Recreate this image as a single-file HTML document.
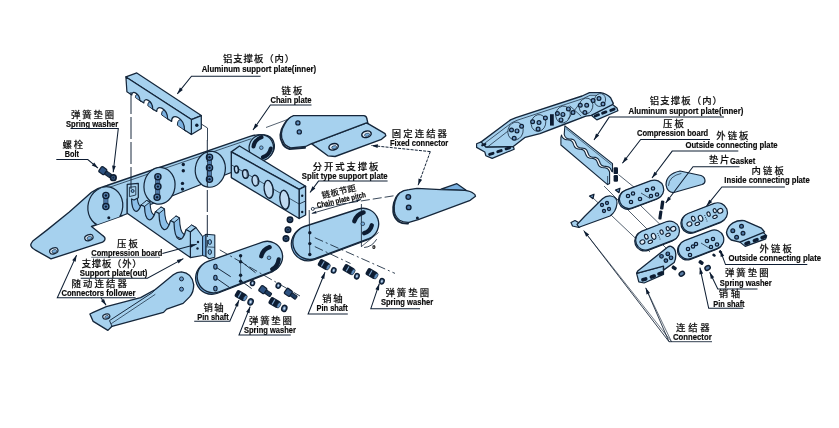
<!DOCTYPE html>
<html><head><meta charset="utf-8"><title>Drag chain exploded diagram</title>
<style>
html,body{margin:0;padding:0;background:#fff;}
svg{display:block}
.cn{font-family:"Liberation Sans","Noto Sans CJK SC","WenQuanYi Zen Hei",sans-serif;fill:#111;font-weight:500;stroke:#111;stroke-width:0.15}
.en{font-family:"Liberation Sans","DejaVu Sans",sans-serif;fill:#0a0a0a;font-weight:bold;stroke:#0a0a0a;stroke-width:0.2}
</style></head><body>
<svg width="839" height="428" viewBox="0 0 839 428">
<defs><filter id="soft" x="0" y="0" width="100%" height="100%" filterUnits="objectBoundingBox"><feGaussianBlur stdDeviation="0.4"/></filter></defs>
<rect width="839" height="428" fill="#fff"/>
<g filter="url(#soft)">
<rect width="839" height="428" fill="#fff"/>
<path d="M107,185.5 L250,136.4 Q261,133.2 267.5,135.6 C275.5,139 276.5,149 270.5,155.5 C266,159.8 262,160.8 258,160.3 L235,171 L122.6,215.5 L91.5,226.5 L102.6,235.4 Q107.5,239 102.6,242.1 L51,258.9 L35,249.8 Q29.5,246.5 31.2,243.5 L32.8,241 L47.2,229.9 L69.3,212.1 L91.5,192.2 Q98,188 107,185.5 Z" fill="#a6d1ee" stroke="#14263a" stroke-width="1.34" stroke-linejoin="round" stroke-linecap="round" />
<path d="M93,193.5 Q99,190 108,187.8 L251,138.8" fill="none" stroke="#14263a" stroke-width="0.73" stroke-linejoin="round" stroke-linecap="round" />
<clipPath id="bandclip"><path d="M107,185.5 L250,136.4 Q261,133.2 267.5,135.6 C275.5,139 276.5,149 270.5,155.5 C266,159.8 262,160.8 258,160.3 L235,171 L122.6,215.5 L91.5,226.5 L102.6,235.4 Q107.5,239 102.6,242.1 L51,258.9 L35,249.8 Q29.5,246.5 31.2,243.5 L32.8,241 L47.2,229.9 L69.3,212.1 L91.5,192.2 Q98,188 107,185.5 Z"/></clipPath>
<g clip-path="url(#bandclip)">
<ellipse cx="105.3" cy="206.6" rx="17.3" ry="20.0" transform="rotate(14.0 105.3 206.6)" fill="#a6d1ee" stroke="#14263a" stroke-width="1.22"/>
</g>
<ellipse cx="159.5" cy="185.8" rx="15.5" ry="18.4" transform="rotate(8.0 159.5 185.8)" fill="#a6d1ee" stroke="#14263a" stroke-width="1.22"/>
<ellipse cx="210.3" cy="169.3" rx="15.0" ry="18.0" transform="rotate(8.0 210.3 169.3)" fill="#a6d1ee" stroke="#14263a" stroke-width="1.22"/>
<ellipse cx="261.3" cy="147.7" rx="12.2" ry="12.9" transform="rotate(12.0 261.3 147.7)" fill="#a6d1ee" stroke="#14263a" stroke-width="1.22"/>
<rect x="103.8" y="195.5" width="4.2" height="11.1" fill="#4f79a8" stroke="#14263a" stroke-width="0.6"/>
<rect x="155.6" y="176.8" width="4.2" height="20.5" fill="#4f79a8" stroke="#14263a" stroke-width="0.6"/>
<rect x="207.4" y="157.2" width="4.2" height="22.1" fill="#4f79a8" stroke="#14263a" stroke-width="0.6"/>
<circle cx="105.9" cy="195.5" r="3.1" fill="#557fae" stroke="#0f1f33" stroke-width="1.34"/>
<circle cx="105.9" cy="195.5" r="1.2" fill="#0f1f33" stroke="none" stroke-width="0.73"/>
<circle cx="105.9" cy="206.6" r="3.1" fill="#557fae" stroke="#0f1f33" stroke-width="1.34"/>
<circle cx="105.9" cy="206.6" r="1.2" fill="#0f1f33" stroke="none" stroke-width="0.73"/>
<circle cx="157.9" cy="176.8" r="3.1" fill="#557fae" stroke="#0f1f33" stroke-width="1.34"/>
<circle cx="157.9" cy="176.8" r="1.2" fill="#0f1f33" stroke="none" stroke-width="0.73"/>
<circle cx="157.9" cy="186.6" r="3.1" fill="#557fae" stroke="#0f1f33" stroke-width="1.34"/>
<circle cx="157.9" cy="186.6" r="1.2" fill="#0f1f33" stroke="none" stroke-width="0.73"/>
<circle cx="157.1" cy="197.3" r="3.1" fill="#557fae" stroke="#0f1f33" stroke-width="1.34"/>
<circle cx="157.1" cy="197.3" r="1.2" fill="#0f1f33" stroke="none" stroke-width="0.73"/>
<circle cx="209.5" cy="157.2" r="3.1" fill="#557fae" stroke="#0f1f33" stroke-width="1.34"/>
<circle cx="209.5" cy="157.2" r="1.2" fill="#0f1f33" stroke="none" stroke-width="0.73"/>
<circle cx="209.5" cy="167.8" r="3.1" fill="#557fae" stroke="#0f1f33" stroke-width="1.34"/>
<circle cx="209.5" cy="167.8" r="1.2" fill="#0f1f33" stroke="none" stroke-width="0.73"/>
<circle cx="209.5" cy="179.3" r="3.1" fill="#557fae" stroke="#0f1f33" stroke-width="1.34"/>
<circle cx="209.5" cy="179.3" r="1.2" fill="#0f1f33" stroke="none" stroke-width="0.73"/>
<circle cx="108.8" cy="217.7" r="1.5" fill="#0f1f33" stroke="none" stroke-width="0.73"/>
<circle cx="183.3" cy="164.5" r="1.7" fill="#0f1f33" stroke="none" stroke-width="0.73"/>
<circle cx="183.3" cy="170.8" r="1.7" fill="#0f1f33" stroke="none" stroke-width="0.73"/>
<circle cx="182.5" cy="183.4" r="1.7" fill="#0f1f33" stroke="none" stroke-width="0.73"/>
<circle cx="182.5" cy="189.1" r="1.7" fill="#0f1f33" stroke="none" stroke-width="0.73"/>
<path d="M253.5,146.5 Q254.5,140 261.5,137.2" fill="none" stroke="#0f1f33" stroke-width="4.03" stroke-linejoin="round" stroke-linecap="round" />
<path d="M262.8,157.3 Q269,155.5 270.8,148.5" fill="none" stroke="#0f1f33" stroke-width="4.03" stroke-linejoin="round" stroke-linecap="round" />
<circle cx="261.3" cy="147.7" r="1.8" fill="#79b0e0" stroke="#14263a" stroke-width="0.73"/>
<ellipse cx="88.9" cy="237.6" rx="4.3" ry="2.9" transform="rotate(-20.0 88.9 237.6)" fill="#e8f1fa" stroke="#14263a" stroke-width="1.22"/>
<ellipse cx="89.4" cy="238.0" rx="2.5" ry="1.6" transform="rotate(-20.0 89.4 238.0)" fill="#79b0e0" stroke="#14263a" stroke-width="0.61"/>
<ellipse cx="53.8" cy="250.9" rx="4.3" ry="2.9" transform="rotate(-20.0 53.8 250.9)" fill="#e8f1fa" stroke="#14263a" stroke-width="1.22"/>
<ellipse cx="54.3" cy="251.3" rx="2.5" ry="1.6" transform="rotate(-20.0 54.3 251.3)" fill="#79b0e0" stroke="#14263a" stroke-width="0.61"/>
<path d="M137.0,194.5 L137.0,194.5 C137.5,208.2 143.0,210.9 146.5,200.5 L150.0,202.0 C150.5,218.2 157.5,219.3 161.0,207.0 L164.5,209.0 C165.0,227.8 172.5,230.2 176.0,216.0 L179.5,218.0 C180.0,238.0 188.0,240.2 191.5,225.0 L195.9,227.5 L190.4,243.2 L127.2,213 L127.2,199 Z" fill="#8cbfe8" stroke="#14263a" stroke-width="1.1" stroke-linejoin="round" stroke-linecap="round" />
<path d="M141.0,205.0 L144.5,206.5 L150.0,202.0 L146.5,200.5 Z" fill="#a6d1ee" stroke="#14263a" stroke-width="0.98" stroke-linejoin="round" />
<path d="M155.5,211.5 L159.0,213.5 L164.5,209.0 L161.0,207.0 Z" fill="#a6d1ee" stroke="#14263a" stroke-width="0.98" stroke-linejoin="round" />
<path d="M170.5,220.5 L174.0,222.5 L179.5,218.0 L176.0,216.0 Z" fill="#a6d1ee" stroke="#14263a" stroke-width="0.98" stroke-linejoin="round" />
<path d="M186.0,229.5 L190.4,232.0 L195.9,227.5 L191.5,225.0 Z" fill="#a6d1ee" stroke="#14263a" stroke-width="0.98" stroke-linejoin="round" />
<path d="M190.4,232.0 L195.9,227.5 L202.6,236.5 L202.6,255.5 L190.4,257.6 Z" fill="#a6d1ee" stroke="#14263a" stroke-width="1.1" stroke-linejoin="round" />
<path d="M127.2,184.4 L138.3,183.3 L138.3,197.7 L134,200 L131.5,199.0 C132.0,212.8 137.5,215.4 141.0,205.0 L144.5,206.5 C145.0,222.8 152.0,223.8 155.5,211.5 L159.0,213.5 C159.5,232.2 167.0,234.8 170.5,220.5 L174.0,222.5 C174.5,242.5 182.5,244.7 186.0,229.5 L190.4,232 L190.4,257.6 L127.2,213.2 Z" fill="#a6d1ee" stroke="#14263a" stroke-width="1.22" stroke-linejoin="round" stroke-linecap="round" />
<path d="M129.8,187.2 L135.8,186.6 L135.8,195 L129.8,196.5 Z" fill="none" stroke="#14263a" stroke-width="0.85" stroke-linejoin="round" stroke-linecap="round" />
<circle cx="132.6" cy="191.0" r="1.5" fill="#79b0e0" stroke="#14263a" stroke-width="0.98"/>
<circle cx="198.0" cy="242.0" r="1.2" fill="#0f1f33" stroke="none" stroke-width="0.73"/>
<circle cx="197.5" cy="248.5" r="1.2" fill="#0f1f33" stroke="none" stroke-width="0.73"/>
<path d="M202.6,236.5 L206.0,234.2 L206.0,256.5 L202.6,255.5 Z" fill="#79b0e0" stroke="#14263a" stroke-width="0.98" stroke-linejoin="round" />
<path d="M206.0,234.2 L214.8,235.0 L214.8,257.2 L209.0,258.7 L206.0,256.5 Z" fill="#a6d1ee" stroke="#14263a" stroke-width="1.1" stroke-linejoin="round" />
<ellipse cx="209.8" cy="242.0" rx="1.7" ry="2.4" transform="rotate(0.0 209.8 242.0)" fill="#79b0e0" stroke="#14263a" stroke-width="0.98"/>
<ellipse cx="209.8" cy="252.0" rx="1.7" ry="2.4" transform="rotate(0.0 209.8 252.0)" fill="#79b0e0" stroke="#14263a" stroke-width="0.98"/>
<line x1="206.0" y1="246.8" x2="214.8" y2="247.3" stroke="#14263a" stroke-width="0.73"/>
<path d="M231.3,151.9 L239.5,146.0 L305.6,186.2 L299.1,189.3 Z" fill="#a6d1ee" stroke="#14263a" stroke-width="1.34" stroke-linejoin="round" />
<path d="M299.1,189.3 L305.6,186.2 L305.6,215.0 L299.1,218.5 Z" fill="#a6d1ee" stroke="#14263a" stroke-width="1.34" stroke-linejoin="round" />
<path d="M231.3,151.9 L299.1,189.3 L299.1,218.5 L231.3,177.6 Z" fill="#a6d1ee" stroke="#14263a" stroke-width="1.34" stroke-linejoin="round" />
<line x1="299.1" y1="204.0" x2="305.6" y2="201.0" stroke="#14263a" stroke-width="0.85"/>
<circle cx="302.2" cy="195.8" r="1.2" fill="#0f1f33" stroke="none" stroke-width="0.73"/>
<circle cx="302.2" cy="212.0" r="1.2" fill="#0f1f33" stroke="none" stroke-width="0.73"/>
<line x1="231.3" y1="164.8" x2="299.1" y2="204.0" stroke="#14263a" stroke-width="0.73"/>
<ellipse cx="236.5" cy="169.4" rx="2.1" ry="3.6" transform="rotate(-8.0 236.5 169.4)" fill="#bfdaf1" stroke="#0f1f33" stroke-width="1.34"/>
<path d="M237.1,166.6 a1.7,3.4 -8 0 1 0.6,5.6" fill="none" stroke="#14263a" stroke-width="0.61" stroke-linejoin="round" stroke-linecap="round" />
<ellipse cx="245.4" cy="174.0" rx="2.8" ry="4.3" transform="rotate(-8.0 245.4 174.0)" fill="#bfdaf1" stroke="#0f1f33" stroke-width="1.34"/>
<path d="M246.0,170.5 a2.2,4.1 -8 0 1 0.6,7.0" fill="none" stroke="#14263a" stroke-width="0.61" stroke-linejoin="round" stroke-linecap="round" />
<ellipse cx="255.4" cy="180.6" rx="3.3" ry="5.4" transform="rotate(-8.0 255.4 180.6)" fill="#bfdaf1" stroke="#0f1f33" stroke-width="1.34"/>
<path d="M256.0,176.0 a2.6,5.1 -8 0 1 0.6,9.2" fill="none" stroke="#14263a" stroke-width="0.61" stroke-linejoin="round" stroke-linecap="round" />
<ellipse cx="268.7" cy="189.3" rx="4.5" ry="9.0" transform="rotate(-8.0 268.7 189.3)" fill="#bfdaf1" stroke="#0f1f33" stroke-width="1.34"/>
<path d="M269.3,181.1 a3.6,8.5 -8 0 1 0.6,16.4" fill="none" stroke="#14263a" stroke-width="0.61" stroke-linejoin="round" stroke-linecap="round" />
<ellipse cx="284.6" cy="199.8" rx="4.6" ry="9.6" transform="rotate(-8.0 284.6 199.8)" fill="#bfdaf1" stroke="#0f1f33" stroke-width="1.34"/>
<path d="M285.2,191.0 a3.7,9.1 -8 0 1 0.6,17.6" fill="none" stroke="#14263a" stroke-width="0.61" stroke-linejoin="round" stroke-linecap="round" />
<path d="M141.0,101.1 C141.0,94.6 135.4,91.9 135.4,97.1 Z" fill="#79b0e0" stroke="#14263a" stroke-width="0.98" stroke-linejoin="round" stroke-linecap="round" />
<path d="M153.9,109.7 C153.9,101.9 147.8,98.9 147.8,105.3 Z" fill="#79b0e0" stroke="#14263a" stroke-width="0.98" stroke-linejoin="round" stroke-linecap="round" />
<path d="M168.8,119.5 C168.8,110.2 161.6,106.6 161.6,114.5 Z" fill="#79b0e0" stroke="#14263a" stroke-width="0.98" stroke-linejoin="round" stroke-linecap="round" />
<path d="M185.7,130.7 C185.7,119.7 177.4,115.4 177.4,124.9 Z" fill="#79b0e0" stroke="#14263a" stroke-width="0.98" stroke-linejoin="round" stroke-linecap="round" />
<path d="M125.9,76.9 L136.8,72.9 L201.3,115.6 L191.4,119.6 Z" fill="#a6d1ee" stroke="#14263a" stroke-width="1.22" stroke-linejoin="round" />
<path d="M191.4,119.6 L201.3,115.6 L201.3,128.5 L191.4,134.5 Z" fill="#a6d1ee" stroke="#14263a" stroke-width="1.22" stroke-linejoin="round" />
<path d="M125.9,76.9 L191.4,119.6 L191.4,134.5 L184.5,129.9 C184.5,118.0 171.6,111.6 171.6,121.4 L167.6,118.7 C167.6,108.9 156.7,103.4 156.7,111.5 L152.7,108.9 C152.7,100.8 143.8,96.3 143.8,103.0 L139.8,100.3 C139.8,93.7 131.8,89.5 131.8,95.0 L126.9,91.8 Z" fill="#a6d1ee" stroke="#14263a" stroke-width="1.22" stroke-linejoin="round" stroke-linecap="round" />
<circle cx="196.8" cy="125.3" r="1.7" fill="#0f1f33" stroke="none" stroke-width="0.73"/>
<path d="M201.3,124 L207.5,128 L207.5,140" fill="none" stroke="#14263a" stroke-width="0.85" stroke-linejoin="round" stroke-linecap="round" />
<path d="M292.6,116.9 Q287.5,118.7 284,124.8 Q281,129.2 280.4,134.8 Q280,139.2 282.6,143.4 Q283.5,146.7 289.7,149.1 L305,147.8" fill="none" stroke="#14263a" stroke-width="1.95" stroke-linejoin="round" stroke-linecap="round" />
<path d="M311.5,143.6 L313.6,142.9 L366.5,122.9 L368.0,123.6 L385.1,133.6 L385.8,135.7 L381.5,139.3 L335.1,156.5 L327.9,155.8 Z" fill="#a6d1ee" stroke="#14263a" stroke-width="1.34" stroke-linejoin="round" />
<path d="M293.6,115.7 L363.7,115.7 Q366.5,116 366.8,118.5 L368,123.6 L366.5,122.9 L313.6,142.9 L311.5,143.6 L305.7,146.5 L290.7,147.9 Q284.5,145.5 283.6,142.2 Q281,138 281.4,133.6 Q282,128 285,123.6 Q288.5,117.5 293.6,115.7 Z" fill="#a6d1ee" stroke="#14263a" stroke-width="1.34" stroke-linejoin="round" stroke-linecap="round" />
<circle cx="297.9" cy="122.9" r="2.1" fill="#5f8dbd" stroke="#0f1f33" stroke-width="1.22"/>
<circle cx="299.3" cy="131.9" r="2.1" fill="#5f8dbd" stroke="#0f1f33" stroke-width="1.22"/>
<ellipse cx="333.6" cy="146.8" rx="4.8" ry="3.1" transform="rotate(-15.0 333.6 146.8)" fill="#e8f1fa" stroke="#0f1f33" stroke-width="1.46"/>
<ellipse cx="334.2" cy="147.3" rx="2.6" ry="1.5" transform="rotate(-15.0 334.2 147.3)" fill="#79b0e0" stroke="#14263a" stroke-width="0.61"/>
<ellipse cx="366.5" cy="134.3" rx="4.8" ry="3.2" transform="rotate(-15.0 366.5 134.3)" fill="#e8f1fa" stroke="#0f1f33" stroke-width="1.46"/>
<ellipse cx="367.1" cy="134.8" rx="2.6" ry="1.5" transform="rotate(-15.0 367.1 134.8)" fill="#79b0e0" stroke="#14263a" stroke-width="0.61"/>
<path d="M441.0,189.2 L456.9,183.7 L466.5,190.5 Z" fill="#79b0e0" stroke="#14263a" stroke-width="1.22" stroke-linejoin="round" />
<path d="M408,190.8 Q402.5,191.2 398.6,194.2 Q395.5,197.2 394,202.8 Q392.8,207.2 393.3,212.2 Q394,217.7 398.6,221.5 Q402,223.7 408,223.5" fill="none" stroke="#14263a" stroke-width="1.95" stroke-linejoin="round" stroke-linecap="round" />
<path d="M409,189.6 L417,188.3 L440.9,189.6 L464.9,190.3 Q471,191.3 472.9,193 Q475.5,194.5 475.5,196.3 L470.2,200.3 L418.3,219.6 L409,222.3 Q403,222.5 399.6,220.3 Q395,216.5 394.3,211 Q393.8,206 395,201.6 Q396.5,196 399.6,193 Q403.5,190 409,189.6 Z" fill="#a6d1ee" stroke="#14263a" stroke-width="1.34" stroke-linejoin="round" stroke-linecap="round" />
<circle cx="408.3" cy="197.0" r="2.3" fill="#4f7aa8" stroke="#0f1f33" stroke-width="1.34"/>
<circle cx="408.7" cy="207.4" r="2.3" fill="#4f7aa8" stroke="#0f1f33" stroke-width="1.34"/>
<circle cx="417.4" cy="217.9" r="1.5" fill="#0f1f33" stroke="none" stroke-width="0.73"/>
<line x1="266.0" y1="127.5" x2="288.0" y2="119.3" stroke="#14263a" stroke-width="0.73"/>
<line x1="313.5" y1="208.5" x2="395.0" y2="195.6" stroke="#14263a" stroke-width="0.85" stroke-dasharray="9 3"/>
<path d="M302.7,227.9 L356.8,210.4 A15.7,15.7 0 0 1 367.2,240.0 L313.7,259.9 A16.9,16.9 0 0 1 302.7,227.9 Z" fill="#79b0e0" stroke="#14263a" stroke-width="1.22"/>
<path d="M304.3,226.5 L358.4,209.0 A15.7,15.7 0 0 1 368.8,238.6 L315.3,258.5 A16.9,16.9 0 0 1 304.3,226.5 Z" fill="#a6d1ee" stroke="#14263a" stroke-width="1.34"/>
<line x1="309.2" y1="210.0" x2="309.8" y2="256.0" stroke="#14263a" stroke-width="0.85"/>
<line x1="361.4" y1="204.0" x2="361.4" y2="246.6" stroke="#14263a" stroke-width="0.85"/>
<circle cx="309.8" cy="232.7" r="1.7" fill="#0f1f33" stroke="none" stroke-width="0.73"/>
<circle cx="309.8" cy="243.6" r="1.7" fill="#0f1f33" stroke="none" stroke-width="0.73"/>
<circle cx="309.8" cy="254.5" r="1.7" fill="#0f1f33" stroke="none" stroke-width="0.73"/>
<path d="M354.3,221.2 Q356.5,214.5 363.6,212.4" fill="none" stroke="#0f1f33" stroke-width="4.39" stroke-linejoin="round" stroke-linecap="round" />
<path d="M364.2,233.2 Q370.3,231.5 371.8,225.3" fill="none" stroke="#0f1f33" stroke-width="4.39" stroke-linejoin="round" stroke-linecap="round" />
<circle cx="362.8" cy="223.8" r="1.8" fill="#79b0e0" stroke="#14263a" stroke-width="0.73"/>
<path d="M336.0,206.5 L311.8,213.4" fill="none" stroke="#0f1f33" stroke-width="0.85"/>
<polygon points="311.8,213.4 315.8,210.9 316.5,213.4" fill="#0f1f33"/>
<path d="M336.0,206.5 L361.0,199.5" fill="none" stroke="#0f1f33" stroke-width="0.85"/>
<polygon points="361.0,199.5 357.0,202.0 356.3,199.5" fill="#0f1f33"/>
<circle cx="312.8" cy="208.9" r="1.5" fill="#fff" stroke="#14263a" stroke-width="0.85"/>
<path d="M361.4,246.6 L378.3,232.7" fill="none" stroke="#14263a" stroke-width="0.73" stroke-linejoin="round" stroke-linecap="round" />
<path d="M364.5,247.5 Q372,247 376.5,239.5" fill="none" stroke="#14263a" stroke-width="0.85" stroke-linejoin="round" stroke-linecap="round" />
<text x="372.3" y="249.3" font-size="6" class="en">θ</text>
<path d="M206.2,262.7 L261.5,243.3 A15.3,15.3 0 0 1 272.1,271.9 L217.6,293.3 A16.3,16.3 0 0 1 206.2,262.7 Z" fill="#79b0e0" stroke="#14263a" stroke-width="1.22"/>
<path d="M207.8,261.3 L263.1,241.9 A15.3,15.3 0 0 1 273.7,270.5 L219.2,291.9 A16.3,16.3 0 0 1 207.8,261.3 Z" fill="#a6d1ee" stroke="#14263a" stroke-width="1.34"/>
<circle cx="240.6" cy="255.8" r="1.7" fill="#0f1f33" stroke="none" stroke-width="0.73"/>
<circle cx="240.6" cy="261.8" r="1.7" fill="#0f1f33" stroke="none" stroke-width="0.73"/>
<circle cx="240.6" cy="275.3" r="1.7" fill="#0f1f33" stroke="none" stroke-width="0.73"/>
<circle cx="240.6" cy="281.2" r="1.7" fill="#0f1f33" stroke="none" stroke-width="0.73"/>
<line x1="240.6" y1="255.8" x2="240.6" y2="281.2" stroke="#14263a" stroke-width="0.61"/>
<ellipse cx="215.4" cy="266.7" rx="1.7" ry="2.4" transform="rotate(0.0 215.4 266.7)" fill="#5f8dbd" stroke="#0f1f33" stroke-width="1.1"/>
<ellipse cx="215.4" cy="277.7" rx="1.7" ry="2.4" transform="rotate(0.0 215.4 277.7)" fill="#5f8dbd" stroke="#0f1f33" stroke-width="1.1"/>
<ellipse cx="215.4" cy="288.6" rx="1.7" ry="2.4" transform="rotate(0.0 215.4 288.6)" fill="#5f8dbd" stroke="#0f1f33" stroke-width="1.1"/>
<line x1="216.8" y1="267.7" x2="230.7" y2="276.7" stroke="#14263a" stroke-width="0.98"/>
<line x1="216.8" y1="278.6" x2="229.7" y2="287.6" stroke="#14263a" stroke-width="0.98"/>
<line x1="241.6" y1="261.8" x2="255.5" y2="272.7" stroke="#14263a" stroke-width="0.98"/>
<line x1="241.6" y1="281.2" x2="251.6" y2="288.6" stroke="#14263a" stroke-width="0.98"/>
<path d="M261.3,256.2 Q262.8,249.5 269.6,247.2" fill="none" stroke="#0f1f33" stroke-width="4.39" stroke-linejoin="round" stroke-linecap="round" />
<path d="M272.2,269.2 Q277.5,267 278.7,259.5" fill="none" stroke="#0f1f33" stroke-width="4.39" stroke-linejoin="round" stroke-linecap="round" />
<circle cx="269.0" cy="257.8" r="1.8" fill="#79b0e0" stroke="#14263a" stroke-width="0.73"/>
<path d="M181.5,271.9 Q192,273 193.7,284.6 Q193.8,292.5 189.6,296.9 L183.1,303.4 L166.7,309.1 L163.5,312.4 L112,326.3 L107.9,330.4 L93.2,321.4 L89.9,314 L93.2,312.4 L106.3,306.7 L140.6,297.7 L155.3,289.5 L173.3,274.8 Q177,272 181.5,271.9 Z" fill="#a6d1ee" stroke="#14263a" stroke-width="1.34" stroke-linejoin="round" stroke-linecap="round" />
<path d="M112,326.3 L109.5,320.6 L152,292.8 L157,288" fill="none" stroke="#14263a" stroke-width="0.98" stroke-linejoin="round" stroke-linecap="round" />
<path d="M111.5,323.5 L155,294.5" fill="none" stroke="#14263a" stroke-width="0.73" stroke-linejoin="round" stroke-linecap="round" />
<ellipse cx="106.3" cy="316.5" rx="3.6" ry="2.5" transform="rotate(-15.0 106.3 316.5)" fill="#e8f1fa" stroke="#14263a" stroke-width="1.22"/>
<ellipse cx="106.8" cy="316.9" rx="2.0" ry="1.3" transform="rotate(-15.0 106.8 316.9)" fill="#79b0e0" stroke="#14263a" stroke-width="0.61"/>
<circle cx="181.5" cy="278.9" r="2.0" fill="#6b98c8" stroke="#14263a" stroke-width="0.98"/>
<circle cx="181.5" cy="289.2" r="2.0" fill="#6b98c8" stroke="#14263a" stroke-width="0.98"/>
<g transform="translate(105.5 172.5) rotate(35.0)">
<rect x="-6.5" y="-3.2" width="6.5" height="6.4" rx="1.2" fill="#2f5382" stroke="#0f1f33" stroke-width="1.2"/>
<rect x="0" y="-1.9" width="6.5" height="3.8" rx="0.8" fill="#1f3a5e" stroke="#0f1f33" stroke-width="1.0"/>
</g>
<circle cx="113.3" cy="177.7" r="2.8" fill="#3c5f8a" stroke="#0f1f33" stroke-width="1.71"/>
<circle cx="113.3" cy="177.7" r="1.1" fill="#15283f" stroke="none" stroke-width="0.73"/>
<circle cx="288.0" cy="229.7" r="2.7" fill="#3c5f8a" stroke="#0f1f33" stroke-width="1.71"/>
<circle cx="288.0" cy="229.7" r="1.1" fill="#15283f" stroke="none" stroke-width="0.73"/>
<circle cx="286.0" cy="238.6" r="2.7" fill="#3c5f8a" stroke="#0f1f33" stroke-width="1.71"/>
<circle cx="286.0" cy="238.6" r="1.1" fill="#15283f" stroke="none" stroke-width="0.73"/>
<circle cx="290.0" cy="219.8" r="2.6" fill="#3c5f8a" stroke="#0f1f33" stroke-width="1.71"/>
<circle cx="290.0" cy="219.8" r="1.0" fill="#15283f" stroke="none" stroke-width="0.73"/>
<g transform="translate(240.6 295.5) rotate(30.0)">
<rect x="-5.5" y="-3.8" width="11.0" height="7.6" rx="1.8" fill="#0f1f33"/>
<rect x="-1.6" y="-2.8" width="1.1" height="5.6" fill="#7fa6cf"/>
<ellipse cx="5.2" cy="0" rx="1.5" ry="3.2" fill="#5f8dbd" stroke="#0f1f33" stroke-width="0.6"/>
</g>
<ellipse cx="250.6" cy="301.9" rx="2.5" ry="3.1" transform="rotate(20.0 250.6 301.9)" fill="#5a7da6" stroke="#0f1f33" stroke-width="1.46"/>
<ellipse cx="250.6" cy="301.9" rx="0.9" ry="1.2" transform="rotate(20.0 250.6 301.9)" fill="#cfe0f1" stroke="none" stroke-width="1.22"/>
<g transform="translate(265.5 291.5) rotate(35.0)">
<rect x="-6.5" y="-3.2" width="6.5" height="6.4" rx="1.2" fill="#2f5382" stroke="#0f1f33" stroke-width="1.2"/>
<rect x="0" y="-1.9" width="6.5" height="3.8" rx="0.8" fill="#1f3a5e" stroke="#0f1f33" stroke-width="1.0"/>
</g>
<g transform="translate(291.0 294.2) rotate(35.0)">
<rect x="-6.5" y="-3.2" width="6.5" height="6.4" rx="1.2" fill="#2f5382" stroke="#0f1f33" stroke-width="1.2"/>
<rect x="0" y="-1.9" width="6.5" height="3.8" rx="0.8" fill="#1f3a5e" stroke="#0f1f33" stroke-width="1.0"/>
</g>
<g transform="translate(274.4 302.5) rotate(30.0)">
<rect x="-5.5" y="-3.8" width="11.0" height="7.6" rx="1.8" fill="#0f1f33"/>
<rect x="-1.6" y="-2.8" width="1.1" height="5.6" fill="#7fa6cf"/>
<ellipse cx="5.2" cy="0" rx="1.5" ry="3.2" fill="#5f8dbd" stroke="#0f1f33" stroke-width="0.6"/>
</g>
<ellipse cx="284.3" cy="308.4" rx="2.5" ry="3.1" transform="rotate(20.0 284.3 308.4)" fill="#5a7da6" stroke="#0f1f33" stroke-width="1.46"/>
<ellipse cx="284.3" cy="308.4" rx="0.9" ry="1.2" transform="rotate(20.0 284.3 308.4)" fill="#cfe0f1" stroke="none" stroke-width="1.22"/>
<ellipse cx="278.4" cy="285.6" rx="2.2" ry="2.7" transform="rotate(20.0 278.4 285.6)" fill="#5a7da6" stroke="#0f1f33" stroke-width="1.46"/>
<ellipse cx="278.4" cy="285.6" rx="0.8" ry="1.1" transform="rotate(20.0 278.4 285.6)" fill="#cfe0f1" stroke="none" stroke-width="1.22"/>
<ellipse cx="252.5" cy="283.2" rx="2.0" ry="2.4" transform="rotate(20.0 252.5 283.2)" fill="#5a7da6" stroke="#0f1f33" stroke-width="1.46"/>
<ellipse cx="252.5" cy="283.2" rx="0.7" ry="1.0" transform="rotate(20.0 252.5 283.2)" fill="#cfe0f1" stroke="none" stroke-width="1.22"/>
<g transform="translate(323.7 264.5) rotate(30.0)">
<rect x="-5.5" y="-3.8" width="11.0" height="7.6" rx="1.8" fill="#0f1f33"/>
<rect x="-1.6" y="-2.8" width="1.1" height="5.6" fill="#7fa6cf"/>
<ellipse cx="5.2" cy="0" rx="1.5" ry="3.2" fill="#5f8dbd" stroke="#0f1f33" stroke-width="0.6"/>
</g>
<ellipse cx="333.7" cy="270.4" rx="2.2" ry="2.7" transform="rotate(20.0 333.7 270.4)" fill="#5a7da6" stroke="#0f1f33" stroke-width="1.46"/>
<ellipse cx="333.7" cy="270.4" rx="0.8" ry="1.1" transform="rotate(20.0 333.7 270.4)" fill="#cfe0f1" stroke="none" stroke-width="1.22"/>
<g transform="translate(348.5 269.4) rotate(30.0)">
<rect x="-5.5" y="-3.8" width="11.0" height="7.6" rx="1.8" fill="#0f1f33"/>
<rect x="-1.6" y="-2.8" width="1.1" height="5.6" fill="#7fa6cf"/>
<ellipse cx="5.2" cy="0" rx="1.5" ry="3.2" fill="#5f8dbd" stroke="#0f1f33" stroke-width="0.6"/>
</g>
<ellipse cx="356.9" cy="276.2" rx="2.2" ry="2.7" transform="rotate(20.0 356.9 276.2)" fill="#5a7da6" stroke="#0f1f33" stroke-width="1.46"/>
<ellipse cx="356.9" cy="276.2" rx="0.8" ry="1.1" transform="rotate(20.0 356.9 276.2)" fill="#cfe0f1" stroke="none" stroke-width="1.22"/>
<g transform="translate(371.5 273.5) rotate(30.0)">
<rect x="-5.5" y="-3.8" width="11.0" height="7.6" rx="1.8" fill="#0f1f33"/>
<rect x="-1.6" y="-2.8" width="1.1" height="5.6" fill="#7fa6cf"/>
<ellipse cx="5.2" cy="0" rx="1.5" ry="3.2" fill="#5f8dbd" stroke="#0f1f33" stroke-width="0.6"/>
</g>
<ellipse cx="381.9" cy="281.3" rx="2.2" ry="2.7" transform="rotate(20.0 381.9 281.3)" fill="#5a7da6" stroke="#0f1f33" stroke-width="1.46"/>
<ellipse cx="381.9" cy="281.3" rx="0.8" ry="1.1" transform="rotate(20.0 381.9 281.3)" fill="#cfe0f1" stroke="none" stroke-width="1.22"/>
<line x1="314.8" y1="237.7" x2="395.0" y2="273.4" stroke="#14263a" stroke-width="0.85" stroke-dasharray="9 3 2 3"/>
<line x1="314.8" y1="246.6" x2="350.5" y2="263.5" stroke="#14263a" stroke-width="0.85" stroke-dasharray="9 3 2 3"/>
<line x1="219.8" y1="249.9" x2="300.0" y2="296.0" stroke="#14263a" stroke-width="0.85" stroke-dasharray="9 3 2 3"/>
<line x1="131.0" y1="92.0" x2="131.0" y2="190.0" stroke="#14263a" stroke-width="0.98" stroke-dasharray="22 3"/>
<line x1="207.3" y1="140.0" x2="207.3" y2="246.0" stroke="#14263a" stroke-width="0.98" stroke-dasharray="22 3"/>
<path d="M476.6,143.7 L481.2,141.9 L486.0,147.0 L513.3,146.5 L514.2,149.2 L492.2,158.4 L485.8,155.7 L484.8,152.0 L476.6,147.4 Z" fill="#a6d1ee" stroke="#14263a" stroke-width="1.22" stroke-linejoin="round" />
<path d="M591.3,115.3 L612.5,104.5 L617.0,107.9 L617.9,110.7 L596.8,119.9 Z" fill="#a6d1ee" stroke="#14263a" stroke-width="1.22" stroke-linejoin="round" />
<path d="M481.2,141.9 L510.5,119.9 L516,117.7 L582.1,96 L589.5,92.7 L600.5,92.7 Q607,94 610.6,97.8 L613.3,103.4 L612.5,104.5 L591.3,115.3 L585.8,116.2 L563.8,124.5 L539.9,133.6 L525.2,137.3 L513.3,146.5 L486,147 Z" fill="#a6d1ee" stroke="#14263a" stroke-width="1.34" stroke-linejoin="round" stroke-linecap="round" />
<path d="M484,143.8 L512,122.6 L517,120.3 L583,98.6 L590,95.3 L601,95.3" fill="none" stroke="#14263a" stroke-width="0.73" stroke-linejoin="round" stroke-linecap="round" />
<path d="M487.5,147 L514.5,126" fill="none" stroke="#14263a" stroke-width="0.73" stroke-linejoin="round" stroke-linecap="round" />
<path d="M489.6,154.4 l3.4,-1.1" fill="none" stroke="#0f1f33" stroke-width="2.93" stroke-linejoin="round" stroke-linecap="round" />
<path d="M497.8,151.7 l3.4,-1.1" fill="none" stroke="#0f1f33" stroke-width="2.93" stroke-linejoin="round" stroke-linecap="round" />
<path d="M506.1,148.9 l3.4,-1.1" fill="none" stroke="#0f1f33" stroke-width="2.93" stroke-linejoin="round" stroke-linecap="round" />
<path d="M482.3,145.3 l3,-1.1" fill="none" stroke="#0f1f33" stroke-width="2.2" stroke-linejoin="round" stroke-linecap="round" />
<path d="M595.2,116.0 l3.3,-1.3" fill="none" stroke="#0f1f33" stroke-width="2.93" stroke-linejoin="round" stroke-linecap="round" />
<path d="M602.6,113.2 l3.3,-1.3" fill="none" stroke="#0f1f33" stroke-width="2.93" stroke-linejoin="round" stroke-linecap="round" />
<path d="M610.8,110.4 l3.3,-1.3" fill="none" stroke="#0f1f33" stroke-width="2.93" stroke-linejoin="round" stroke-linecap="round" />
<ellipse cx="515.5" cy="131.0" rx="7.6" ry="9.0" transform="rotate(15.0 515.5 131.0)" fill="#a6d1ee" stroke="#14263a" stroke-width="0.73"/>
<ellipse cx="538.5" cy="123.0" rx="7.2" ry="8.5" transform="rotate(15.0 538.5 123.0)" fill="#a6d1ee" stroke="#14263a" stroke-width="0.73"/>
<ellipse cx="563.0" cy="114.5" rx="7.2" ry="8.5" transform="rotate(15.0 563.0 114.5)" fill="#a6d1ee" stroke="#14263a" stroke-width="0.73"/>
<ellipse cx="586.0" cy="106.0" rx="6.8" ry="8.0" transform="rotate(15.0 586.0 106.0)" fill="#a6d1ee" stroke="#14263a" stroke-width="0.73"/>
<ellipse cx="600.0" cy="100.0" rx="5.5" ry="6.5" transform="rotate(15.0 600.0 100.0)" fill="#a6d1ee" stroke="#14263a" stroke-width="0.73"/>
<path d="M568,119 L580,103 M570,106 L581,116" fill="none" stroke="#14263a" stroke-width="0.73" stroke-linejoin="round" stroke-linecap="round" />
<circle cx="511.5" cy="130.0" r="1.9" fill="#6f99c6" stroke="#0f1f33" stroke-width="1.22"/>
<circle cx="517.0" cy="130.9" r="1.9" fill="#6f99c6" stroke="#0f1f33" stroke-width="1.22"/>
<circle cx="514.2" cy="138.2" r="1.9" fill="#6f99c6" stroke="#0f1f33" stroke-width="1.22"/>
<circle cx="521.6" cy="126.3" r="1.9" fill="#6f99c6" stroke="#0f1f33" stroke-width="1.22"/>
<circle cx="532.6" cy="121.7" r="1.9" fill="#6f99c6" stroke="#0f1f33" stroke-width="1.22"/>
<circle cx="539.0" cy="122.6" r="1.9" fill="#6f99c6" stroke="#0f1f33" stroke-width="1.22"/>
<circle cx="538.1" cy="129.1" r="1.9" fill="#6f99c6" stroke="#0f1f33" stroke-width="1.22"/>
<circle cx="545.4" cy="118.0" r="1.9" fill="#6f99c6" stroke="#0f1f33" stroke-width="1.22"/>
<circle cx="557.4" cy="113.5" r="1.9" fill="#6f99c6" stroke="#0f1f33" stroke-width="1.22"/>
<circle cx="562.9" cy="114.4" r="1.9" fill="#6f99c6" stroke="#0f1f33" stroke-width="1.22"/>
<circle cx="561.0" cy="119.9" r="1.9" fill="#6f99c6" stroke="#0f1f33" stroke-width="1.22"/>
<circle cx="568.4" cy="108.9" r="1.9" fill="#6f99c6" stroke="#0f1f33" stroke-width="1.22"/>
<circle cx="573.0" cy="112.5" r="1.9" fill="#6f99c6" stroke="#0f1f33" stroke-width="1.22"/>
<circle cx="580.3" cy="105.2" r="1.9" fill="#6f99c6" stroke="#0f1f33" stroke-width="1.22"/>
<circle cx="586.7" cy="105.2" r="1.9" fill="#6f99c6" stroke="#0f1f33" stroke-width="1.22"/>
<circle cx="584.9" cy="112.5" r="1.9" fill="#6f99c6" stroke="#0f1f33" stroke-width="1.22"/>
<circle cx="593.1" cy="100.6" r="1.9" fill="#6f99c6" stroke="#0f1f33" stroke-width="1.22"/>
<circle cx="599.0" cy="98.5" r="1.9" fill="#6f99c6" stroke="#0f1f33" stroke-width="1.22"/>
<circle cx="603.0" cy="104.0" r="1.9" fill="#6f99c6" stroke="#0f1f33" stroke-width="1.22"/>
<rect x="550" y="114.2" width="3.8" height="11.4" fill="#0f1f33"/>
<path d="M560.9,137.5 L561.5,135.1 L562.0,136.5 L562.7,137.7 L563.6,138.6 L564.7,139.2 L566.1,139.6 L567.5,139.8 L569.0,139.9 L570.3,140.3 L571.4,140.9 L572.3,141.8 L573.0,143.0 L573.5,144.4 L574.1,145.8 L574.7,147.0 L575.6,147.9 L576.7,148.5 L578.1,148.9 L579.5,149.1 L581.0,149.2 L582.3,149.6 L583.5,150.2 L584.3,151.1 L585.0,152.3 L585.5,153.7 L586.1,155.1 L586.8,156.3 L587.6,157.2 L588.8,157.8 L590.1,158.2 L591.6,158.3 L593.0,158.5 L594.4,158.9 L595.5,159.5 L596.4,160.4 L597.0,161.6 L597.6,163.0 L598.1,164.4 L598.8,165.6 L599.7,166.5 L600.8,167.1 L602.1,167.5 L603.6,167.7 L605.0,167.8 L606.4,168.2 L607.5,168.8 L608.4,169.7 L609.1,170.9 L609.6,172.3 L609.6,183.5 L607.6,184.6 L560.9,145.0 Z" fill="#a6d1ee" stroke="#14263a" stroke-width="1.1" stroke-linejoin="round" />
<line x1="607.6" y1="184.6" x2="607.6" y2="176.0" stroke="#14263a" stroke-width="0.73"/>
<path d="M564.9,125.9 L612.5,163.6 L612.5,171.8 L611.5,171.0 L611.0,169.6 L610.3,168.4 L609.5,167.5 L608.4,166.9 L607.0,166.6 L605.6,166.4 L604.1,166.3 L602.8,165.9 L601.7,165.3 L600.9,164.4 L600.2,163.2 L599.7,161.8 L599.1,160.5 L598.5,159.3 L597.6,158.4 L596.5,157.8 L595.2,157.4 L593.8,157.3 L592.3,157.1 L591.0,156.8 L589.9,156.2 L589.0,155.3 L588.4,154.1 L587.9,152.7 L587.3,151.3 L586.7,150.1 L585.8,149.2 L584.7,148.6 L583.4,148.3 L581.9,148.1 L580.5,148.0 L579.2,147.6 L578.1,147.0 L577.2,146.1 L576.6,144.9 L576.0,143.6 L575.5,142.2 L574.8,141.0 L574.0,140.1 L572.9,139.5 L571.6,139.1 L570.1,139.0 L568.7,138.8 L567.3,138.5 L566.2,137.9 L565.4,137.0 L564.7,135.8 L564.2,134.4 L564.2,134.4 Z" fill="#a6d1ee" stroke="#14263a" stroke-width="1.1" stroke-linejoin="round" />
<line x1="566.0" y1="128.6" x2="611.5" y2="165.0" stroke="#14263a" stroke-width="0.61"/>
<rect x="613.6" y="167.3" width="4.4" height="6.8" rx="1.2" fill="#0f1f33"/>
<rect x="613.6" y="175" width="4.4" height="6.8" rx="1.2" fill="#0f1f33"/>
<line x1="618.5" y1="174.6" x2="640.0" y2="192.0" stroke="#14263a" stroke-width="0.73"/>
<line x1="604.0" y1="186.0" x2="668.0" y2="250.0" stroke="#14263a" stroke-width="0.73"/>
<line x1="592.0" y1="197.0" x2="650.0" y2="252.0" stroke="#14263a" stroke-width="0.73"/>
<line x1="640.0" y1="205.0" x2="672.0" y2="236.0" stroke="#14263a" stroke-width="0.73"/>
<path d="M571.0,222.5 L575.0,220.5 L582.0,224.5 L579.0,227.5 L572.5,226.0 Z" fill="#a6d1ee" stroke="#14263a" stroke-width="1.22" stroke-linejoin="round" />
<path d="M611,196 Q617.5,197 617,203.5 Q616,212 610,216 L579,227.3 L577,224.5 L585,216 L602.5,198.8 Q606,195.5 611,196 Z" fill="#a6d1ee" stroke="#14263a" stroke-width="1.22" stroke-linejoin="round" stroke-linecap="round" />
<circle cx="602.0" cy="205.0" r="1.6" fill="#5d86b3" stroke="#0f1f33" stroke-width="1.1"/>
<circle cx="607.0" cy="203.0" r="1.6" fill="#5d86b3" stroke="#0f1f33" stroke-width="1.1"/>
<circle cx="604.0" cy="211.0" r="1.6" fill="#5d86b3" stroke="#0f1f33" stroke-width="1.1"/>
<circle cx="609.0" cy="209.0" r="1.6" fill="#5d86b3" stroke="#0f1f33" stroke-width="1.1"/>
<path d="M589.5,196 l4.5,-1.8 l-1,4.5 Z" fill="#6f99c6" stroke="#0f1f33" stroke-width="1.22" stroke-linejoin="round" stroke-linecap="round" />
<path d="M615.5,190 l4.5,-1.8 l-1,4.5 Z" fill="#6f99c6" stroke="#0f1f33" stroke-width="1.22" stroke-linejoin="round" stroke-linecap="round" />
<path d="M-13.5,-9.5 L13.5,-9.5 A9.5,9.5 0 0 1 13.5,9.5 L-13.5,9.5 A9.5,9.5 0 0 1 -13.5,-9.5 Z" transform="translate(640.6 195.1) rotate(-20.5)" fill="#79b0e0" stroke="#14263a" stroke-width="1.22"/>
<path d="M-13.5,-9.5 L13.5,-9.5 A9.5,9.5 0 0 1 13.5,9.5 L-13.5,9.5 A9.5,9.5 0 0 1 -13.5,-9.5 Z" transform="translate(641.6 194.3) rotate(-20.5)" fill="#a6d1ee" stroke="#14263a" stroke-width="1.22"/>
<circle cx="628.0" cy="196.0" r="1.7" fill="#8dbbe3" stroke="#0f1f33" stroke-width="1.22"/>
<circle cx="633.0" cy="193.5" r="1.7" fill="#8dbbe3" stroke="#0f1f33" stroke-width="1.22"/>
<circle cx="631.0" cy="202.0" r="1.7" fill="#8dbbe3" stroke="#0f1f33" stroke-width="1.22"/>
<circle cx="647.0" cy="190.0" r="1.7" fill="#8dbbe3" stroke="#0f1f33" stroke-width="1.22"/>
<circle cx="653.0" cy="188.5" r="1.7" fill="#8dbbe3" stroke="#0f1f33" stroke-width="1.22"/>
<circle cx="651.0" cy="196.0" r="1.7" fill="#8dbbe3" stroke="#0f1f33" stroke-width="1.22"/>
<circle cx="657.0" cy="194.5" r="1.7" fill="#8dbbe3" stroke="#0f1f33" stroke-width="1.22"/>
<circle cx="640.0" cy="199.0" r="1.7" fill="#8dbbe3" stroke="#0f1f33" stroke-width="1.22"/>
<line x1="641.0" y1="193.0" x2="650.0" y2="198.5" stroke="#14263a" stroke-width="0.73"/>
<path d="M666,185 Q666,174 680,171 L701,175.5 Q705,177 705,181 Q705,183.5 702,184.5 L674,192.5 Q667.5,193 666,185 Z" fill="#a6d1ee" stroke="#14263a" stroke-width="1.22" stroke-linejoin="round" stroke-linecap="round" />
<path d="M668.5,185.5 Q669,176 681,173.5" fill="none" stroke="#14263a" stroke-width="0.73" stroke-linejoin="round" stroke-linecap="round" />
<rect x="660.5" y="200.5" width="3.4" height="9" rx="1" transform="rotate(8 662 205)" fill="#0f1f33"/>
<rect x="658.8" y="210.5" width="3.2" height="9" rx="1" transform="rotate(8 660 215)" fill="#0f1f33"/>
<path d="M-13.0,-9.8 L13.0,-9.8 A9.8,9.8 0 0 1 13.0,9.8 L-13.0,9.8 A9.8,9.8 0 0 1 -13.0,-9.8 Z" transform="translate(656.7 236.5) rotate(-21.0)" fill="#79b0e0" stroke="#14263a" stroke-width="1.22"/>
<path d="M-13.0,-9.8 L13.0,-9.8 A9.8,9.8 0 0 1 13.0,9.8 L-13.0,9.8 A9.8,9.8 0 0 1 -13.0,-9.8 Z" transform="translate(657.6 235.6) rotate(-21.0)" fill="#a6d1ee" stroke="#14263a" stroke-width="1.22"/>
<ellipse cx="642.4" cy="242.0" rx="2.5" ry="2.1" transform="rotate(-21.0 642.4 242.0)" fill="#e4eef8" stroke="#0f1f33" stroke-width="1.1"/>
<ellipse cx="646.3" cy="236.7" rx="1.7" ry="2.5" transform="rotate(-21.0 646.3 236.7)" fill="#e4eef8" stroke="#0f1f33" stroke-width="1.1"/>
<ellipse cx="650.3" cy="241.8" rx="2.3" ry="1.5" transform="rotate(-21.0 650.3 241.8)" fill="#e4eef8" stroke="#0f1f33" stroke-width="1.1"/>
<ellipse cx="653.6" cy="236.3" rx="2.1" ry="3.1" transform="rotate(-21.0 653.6 236.3)" fill="#e4eef8" stroke="#0f1f33" stroke-width="1.1"/>
<ellipse cx="661.6" cy="232.1" rx="1.5" ry="2.3" transform="rotate(-21.0 661.6 232.1)" fill="#e4eef8" stroke="#0f1f33" stroke-width="1.1"/>
<ellipse cx="668.0" cy="234.8" rx="2.3" ry="1.5" transform="rotate(-21.0 668.0 234.8)" fill="#e4eef8" stroke="#0f1f33" stroke-width="1.1"/>
<ellipse cx="667.8" cy="228.7" rx="1.5" ry="2.1" transform="rotate(-21.0 667.8 228.7)" fill="#e4eef8" stroke="#0f1f33" stroke-width="1.1"/>
<ellipse cx="673.2" cy="228.8" rx="2.7" ry="2.3" transform="rotate(-21.0 673.2 228.8)" fill="#e4eef8" stroke="#0f1f33" stroke-width="1.1"/>
<circle cx="657.8" cy="233.4" r="0.5" fill="#0f1f33" stroke="none" stroke-width="0.73"/>
<circle cx="658.5" cy="235.2" r="0.5" fill="#0f1f33" stroke="none" stroke-width="0.73"/>
<circle cx="659.3" cy="237.1" r="0.5" fill="#0f1f33" stroke="none" stroke-width="0.73"/>
<circle cx="660.0" cy="239.0" r="0.5" fill="#0f1f33" stroke="none" stroke-width="0.73"/>
<path d="M-14.0,-9.8 L14.0,-9.8 A9.8,9.8 0 0 1 14.0,9.8 L-14.0,9.8 A9.8,9.8 0 0 1 -14.0,-9.8 Z" transform="translate(703.7 218.5) rotate(-21.0)" fill="#79b0e0" stroke="#14263a" stroke-width="1.22"/>
<path d="M-14.0,-9.8 L14.0,-9.8 A9.8,9.8 0 0 1 14.0,9.8 L-14.0,9.8 A9.8,9.8 0 0 1 -14.0,-9.8 Z" transform="translate(704.6 217.6) rotate(-21.0)" fill="#a6d1ee" stroke="#14263a" stroke-width="1.22"/>
<ellipse cx="689.4" cy="224.0" rx="2.5" ry="2.1" transform="rotate(-21.0 689.4 224.0)" fill="#e4eef8" stroke="#0f1f33" stroke-width="1.1"/>
<ellipse cx="693.3" cy="218.7" rx="1.7" ry="2.5" transform="rotate(-21.0 693.3 218.7)" fill="#e4eef8" stroke="#0f1f33" stroke-width="1.1"/>
<ellipse cx="697.3" cy="223.8" rx="2.3" ry="1.5" transform="rotate(-21.0 697.3 223.8)" fill="#e4eef8" stroke="#0f1f33" stroke-width="1.1"/>
<ellipse cx="700.6" cy="218.3" rx="2.1" ry="3.1" transform="rotate(-21.0 700.6 218.3)" fill="#e4eef8" stroke="#0f1f33" stroke-width="1.1"/>
<ellipse cx="708.6" cy="214.1" rx="1.5" ry="2.3" transform="rotate(-21.0 708.6 214.1)" fill="#e4eef8" stroke="#0f1f33" stroke-width="1.1"/>
<ellipse cx="715.0" cy="216.8" rx="2.3" ry="1.5" transform="rotate(-21.0 715.0 216.8)" fill="#e4eef8" stroke="#0f1f33" stroke-width="1.1"/>
<ellipse cx="714.8" cy="210.7" rx="1.5" ry="2.1" transform="rotate(-21.0 714.8 210.7)" fill="#e4eef8" stroke="#0f1f33" stroke-width="1.1"/>
<ellipse cx="720.2" cy="210.8" rx="2.7" ry="2.3" transform="rotate(-21.0 720.2 210.8)" fill="#e4eef8" stroke="#0f1f33" stroke-width="1.1"/>
<circle cx="704.8" cy="215.4" r="0.5" fill="#0f1f33" stroke="none" stroke-width="0.73"/>
<circle cx="705.5" cy="217.2" r="0.5" fill="#0f1f33" stroke="none" stroke-width="0.73"/>
<circle cx="706.3" cy="219.1" r="0.5" fill="#0f1f33" stroke="none" stroke-width="0.73"/>
<circle cx="707.0" cy="221.0" r="0.5" fill="#0f1f33" stroke="none" stroke-width="0.73"/>
<path d="M-14.1,-9.5 L14.1,-9.5 A9.5,9.5 0 0 1 14.1,9.5 L-14.1,9.5 A9.5,9.5 0 0 1 -14.1,-9.5 Z" transform="translate(700.2 245.4) rotate(-21.0)" fill="#79b0e0" stroke="#14263a" stroke-width="1.22"/>
<path d="M-14.1,-9.5 L14.1,-9.5 A9.5,9.5 0 0 1 14.1,9.5 L-14.1,9.5 A9.5,9.5 0 0 1 -14.1,-9.5 Z" transform="translate(701.1 244.5) rotate(-21.0)" fill="#a6d1ee" stroke="#14263a" stroke-width="1.22"/>
<circle cx="688.0" cy="249.0" r="1.7" fill="#8dbbe3" stroke="#0f1f33" stroke-width="1.22"/>
<circle cx="693.0" cy="246.5" r="1.7" fill="#8dbbe3" stroke="#0f1f33" stroke-width="1.22"/>
<circle cx="690.0" cy="255.0" r="1.7" fill="#8dbbe3" stroke="#0f1f33" stroke-width="1.22"/>
<circle cx="707.0" cy="241.0" r="1.7" fill="#8dbbe3" stroke="#0f1f33" stroke-width="1.22"/>
<circle cx="713.0" cy="239.0" r="1.7" fill="#8dbbe3" stroke="#0f1f33" stroke-width="1.22"/>
<circle cx="711.0" cy="247.0" r="1.7" fill="#8dbbe3" stroke="#0f1f33" stroke-width="1.22"/>
<circle cx="717.0" cy="244.5" r="1.7" fill="#8dbbe3" stroke="#0f1f33" stroke-width="1.22"/>
<circle cx="696.0" cy="244.0" r="1.7" fill="#8dbbe3" stroke="#0f1f33" stroke-width="1.22"/>
<line x1="701.0" y1="243.0" x2="710.0" y2="248.5" stroke="#14263a" stroke-width="0.73"/>
<path d="M739.9,242.1 L761.4,231.0 L766.7,235.6 L765.7,238.9 L745.2,246.4 Z" fill="#a6d1ee" stroke="#14263a" stroke-width="1.22" stroke-linejoin="round" />
<path d="M744.2,220.6 L761.4,228.1 L764.5,232 L739.9,242.1 L731.2,240 Q726.8,236.5 726.5,232.4 Q727.5,226 733,222.8 Q738,220 744.2,220.6 Z" fill="#a6d1ee" stroke="#14263a" stroke-width="1.34" stroke-linejoin="round" stroke-linecap="round" />
<circle cx="732.8" cy="230.8" r="1.9" fill="#4f7aa8" stroke="#0f1f33" stroke-width="1.22"/>
<circle cx="741.5" cy="226.3" r="1.9" fill="#4f7aa8" stroke="#0f1f33" stroke-width="1.22"/>
<circle cx="736.6" cy="237.3" r="1.9" fill="#4f7aa8" stroke="#0f1f33" stroke-width="1.22"/>
<circle cx="743.0" cy="233.2" r="1.9" fill="#4f7aa8" stroke="#0f1f33" stroke-width="1.22"/>
<path d="M746.0,243.6 l2.6,-1" fill="none" stroke="#0f1f33" stroke-width="3.66" stroke-linejoin="round" stroke-linecap="round" />
<path d="M754.4,240.6 l2.6,-1" fill="none" stroke="#0f1f33" stroke-width="3.66" stroke-linejoin="round" stroke-linecap="round" />
<path d="M762.2,237.6 l2.6,-1" fill="none" stroke="#0f1f33" stroke-width="3.66" stroke-linejoin="round" stroke-linecap="round" />
<path d="M636.6,273.3 L663.5,266.0 L663.5,274.4 L644.1,283.0 L638.8,281.9 Z" fill="#a6d1ee" stroke="#14263a" stroke-width="1.22" stroke-linejoin="round" />
<path d="M671,246.4 Q676,248.5 675.8,255 Q675.8,259.5 674.2,262.5 L663.5,270.1 L663.5,266.2 L636.6,273.3 L637.7,271.1 L667.8,247 Q669.3,246 671,246.4 Z" fill="#a6d1ee" stroke="#14263a" stroke-width="1.34" stroke-linejoin="round" stroke-linecap="round" />
<circle cx="661.5" cy="256.3" r="1.8" fill="#4f7aa8" stroke="#0f1f33" stroke-width="1.22"/>
<circle cx="667.8" cy="253.8" r="1.8" fill="#4f7aa8" stroke="#0f1f33" stroke-width="1.22"/>
<circle cx="665.9" cy="260.6" r="1.8" fill="#4f7aa8" stroke="#0f1f33" stroke-width="1.22"/>
<circle cx="671.0" cy="257.8" r="1.8" fill="#4f7aa8" stroke="#0f1f33" stroke-width="1.22"/>
<path d="M642.9,279.8 l2.8,-0.9" fill="none" stroke="#0f1f33" stroke-width="3.66" stroke-linejoin="round" stroke-linecap="round" />
<path d="M651.4,277.0 l2.8,-0.9" fill="none" stroke="#0f1f33" stroke-width="3.66" stroke-linejoin="round" stroke-linecap="round" />
<path d="M659.0,273.9 l2.8,-0.9" fill="none" stroke="#0f1f33" stroke-width="3.66" stroke-linejoin="round" stroke-linecap="round" />
<rect x="671.6" y="266.1" width="5.2" height="3.6" rx="1.3" transform="rotate(35.0 674.2 267.9)" fill="#0f1f33"/>
<ellipse cx="681.8" cy="273.7" rx="2.8" ry="2.1" transform="rotate(-35.0 681.8 273.7)" fill="#5a7da6" stroke="#0f1f33" stroke-width="1.46"/>
<rect x="698.5" y="260.7" width="5.2" height="3.6" rx="1.3" transform="rotate(35.0 701.1 262.5)" fill="#0f1f33"/>
<ellipse cx="707.6" cy="267.9" rx="2.8" ry="2.1" transform="rotate(-35.0 707.6 267.9)" fill="#5a7da6" stroke="#0f1f33" stroke-width="1.46"/>
<rect x="712.2" y="253.9" width="3.6" height="2.6" rx="1.3" transform="rotate(35.0 714.0 255.2)" fill="#0f1f33"/>
<rect x="718.7" y="250.7" width="3.6" height="2.6" rx="1.3" transform="rotate(35.0 720.5 252.0)" fill="#0f1f33"/>
<text x="223.0" y="61.6" font-size="9.4" class="cn" textLength="71.2" lengthAdjust="spacing">铝支撑板（内）</text>
<text x="201.7" y="71.9" font-size="9.8" class="en" textLength="114.5" lengthAdjust="spacingAndGlyphs">Aluminum support plate(inner)</text>
<path d="M260.6,76.2 L191.5,76.2 L177.3,93.9" fill="none" stroke="#0f1f33" stroke-width="1.04"/>
<polygon points="177.3,93.9 179.9,87.6 182.8,90.0" fill="#0f1f33"/>
<text x="281.4" y="93.8" font-size="9.4" class="cn" textLength="20.9" lengthAdjust="spacing">链板</text>
<text x="270.4" y="103.0" font-size="9.8" class="en" textLength="41.1" lengthAdjust="spacingAndGlyphs">Chain plate</text>
<path d="M311.5,105.0 L270.4,105.0 L253.0,130.0" fill="none" stroke="#0f1f33" stroke-width="1.04"/>
<polygon points="253.0,130.0 255.2,123.6 258.3,125.8" fill="#0f1f33"/>
<text x="391.7" y="137.0" font-size="9.4" class="cn" textLength="55.3" lengthAdjust="spacing">固定连结器</text>
<text x="390.0" y="145.9" font-size="9.8" class="en" textLength="58.2" lengthAdjust="spacingAndGlyphs">Fixed connector</text>
<path d="M430.3,151.6 L371.3,145.5" fill="none" stroke="#0f1f33" stroke-width="0.98" stroke-dasharray="3 1.2"/>
<polygon points="371.3,145.5 378.0,144.3 377.6,148.1" fill="#0f1f33"/>
<path d="M430.3,151.6 L418.1,185.2" fill="none" stroke="#0f1f33" stroke-width="0.98" stroke-dasharray="3 1.2"/>
<polygon points="418.1,185.2 418.5,178.4 422.1,179.7" fill="#0f1f33"/>
<text x="312.8" y="170.0" font-size="9.4" class="cn" textLength="65.6" lengthAdjust="spacing">分开式支撑板</text>
<text x="301.8" y="179.0" font-size="9.8" class="en" textLength="85.8" lengthAdjust="spacingAndGlyphs">Split type support plate</text>
<path d="M387.6,181.1 L318.5,181.1 L310.0,192.5" fill="none" stroke="#0f1f33" stroke-width="1.04"/>
<polygon points="310.0,192.5 312.4,186.2 315.4,188.4" fill="#0f1f33"/>
<text x="70.9" y="118.1" font-size="9.4" class="cn" textLength="43.3" lengthAdjust="spacing">弹簧垫圈</text>
<text x="66.0" y="127.0" font-size="9.8" class="en" textLength="52.3" lengthAdjust="spacingAndGlyphs">Spring washer</text>
<path d="M70.5,128.5 L118.3,128.5 L113.2,172.2" fill="none" stroke="#0f1f33" stroke-width="1.04"/>
<polygon points="113.2,172.2 112.1,165.5 115.8,166.0" fill="#0f1f33"/>
<text x="62.4" y="148.2" font-size="9.4" class="cn" textLength="20.7" lengthAdjust="spacing">螺栓</text>
<text x="64.8" y="156.5" font-size="9.8" class="en" textLength="14.2" lengthAdjust="spacingAndGlyphs">Bolt</text>
<path d="M56.3,159.6 L87.8,159.6 L98.0,168.1" fill="none" stroke="#0f1f33" stroke-width="1.04"/>
<polygon points="98.0,168.1 91.8,165.4 94.2,162.5" fill="#0f1f33"/>
<text x="116.9" y="246.8" font-size="9.4" class="cn" textLength="21.1" lengthAdjust="spacing">压板</text>
<text x="91.2" y="255.9" font-size="9.8" class="en" textLength="71.2" lengthAdjust="spacingAndGlyphs">Compression board</text>
<path d="M91.2,257.3 L160.0,257.3" fill="none" stroke="#0f1f33" stroke-width="0.61"/>
<path d="M162.4,253.5 L196.6,244.3" fill="none" stroke="#0f1f33" stroke-width="1.04"/>
<polygon points="196.6,244.3 190.8,247.8 189.8,244.2" fill="#0f1f33"/>
<text x="81.7" y="267.1" font-size="9.4" class="cn" textLength="60.0" lengthAdjust="spacing">支撑板（外）</text>
<text x="79.7" y="276.2" font-size="9.8" class="en" textLength="67.7" lengthAdjust="spacingAndGlyphs">Support plate(out)</text>
<path d="M80.7,278.3 L147.4,278.3 L183.4,258.6" fill="none" stroke="#0f1f33" stroke-width="1.04"/>
<polygon points="183.4,258.6 178.6,263.4 176.8,260.1" fill="#0f1f33"/>
<text x="71.5" y="287.0" font-size="9.4" class="cn" textLength="55.5" lengthAdjust="spacing">随动连结器</text>
<text x="61.4" y="296.2" font-size="9.8" class="en" textLength="74.2" lengthAdjust="spacingAndGlyphs">Connectors follower</text>
<path d="M135.6,297.8 L57.3,297.8 L76.6,255.1" fill="none" stroke="#0f1f33" stroke-width="1.04"/>
<polygon points="76.6,255.1 75.7,261.8 72.2,260.2" fill="#0f1f33"/>
<path d="M101.0,297.8 L106.1,305.3" fill="none" stroke="#0f1f33" stroke-width="1.04"/>
<polygon points="106.1,305.3 100.9,301.0 104.0,298.9" fill="#0f1f33"/>
<text x="203.4" y="310.6" font-size="9.4" class="cn" textLength="20.3" lengthAdjust="spacing">销轴</text>
<text x="197.3" y="319.8" font-size="9.8" class="en" textLength="31.5" lengthAdjust="spacingAndGlyphs">Pin shaft</text>
<path d="M194.2,321.2 L229.8,321.2 L239.0,300.1" fill="none" stroke="#0f1f33" stroke-width="1.04"/>
<polygon points="239.0,300.1 238.1,306.8 234.7,305.3" fill="#0f1f33"/>
<text x="249.1" y="324.3" font-size="9.4" class="cn" textLength="42.7" lengthAdjust="spacing">弹簧垫圈</text>
<text x="244.0" y="333.0" font-size="9.8" class="en" textLength="51.9" lengthAdjust="spacingAndGlyphs">Spring washer</text>
<path d="M290.8,335.1 L239.0,335.1 L250.2,306.6" fill="none" stroke="#0f1f33" stroke-width="1.04"/>
<polygon points="250.2,306.6 249.6,313.3 246.1,312.0" fill="#0f1f33"/>
<text x="322.3" y="301.5" font-size="9.4" class="cn" textLength="20.4" lengthAdjust="spacing">销轴</text>
<text x="316.6" y="310.5" font-size="9.8" class="en" textLength="31.2" lengthAdjust="spacingAndGlyphs">Pin shaft</text>
<path d="M347.8,314.0 L308.1,314.0 L325.0,272.2" fill="none" stroke="#0f1f33" stroke-width="1.04"/>
<polygon points="325.0,272.2 324.3,278.9 320.8,277.5" fill="#0f1f33"/>
<text x="385.4" y="296.1" font-size="9.4" class="cn" textLength="43.7" lengthAdjust="spacing">弹簧垫圈</text>
<text x="380.9" y="305.1" font-size="9.8" class="en" textLength="52.3" lengthAdjust="spacingAndGlyphs">Spring washer</text>
<path d="M420.0,308.7 L370.8,308.7 L379.3,283.7" fill="none" stroke="#0f1f33" stroke-width="1.04"/>
<polygon points="379.3,283.7 379.0,290.5 375.4,289.2" fill="#0f1f33"/>
<g transform="rotate(-13 338 190)">
<text x="321.0" y="194.9" font-size="8.5" class="cn" textLength="35.0" lengthAdjust="spacing">链板节距</text>
<text x="314.0" y="203.0" font-size="7.6" class="en" textLength="50.0" lengthAdjust="spacingAndGlyphs">Chain plate pitch</text>
</g>
<text x="649.8" y="103.7" font-size="9.4" class="cn" textLength="72.2" lengthAdjust="spacing">铝支撑板（内）</text>
<text x="628.5" y="114.1" font-size="9.8" class="en" textLength="114.9" lengthAdjust="spacingAndGlyphs">Aluminum support plate(inner)</text>
<path d="M724.0,117.1 L609.2,117.1 L594.0,140.0" fill="none" stroke="#0f1f33" stroke-width="1.04"/>
<polygon points="594.0,140.0 596.0,133.5 599.2,135.6" fill="#0f1f33"/>
<text x="663.0" y="127.1" font-size="9.4" class="cn" textLength="20.8" lengthAdjust="spacing">压板</text>
<text x="637.0" y="135.8" font-size="9.8" class="en" textLength="71.2" lengthAdjust="spacingAndGlyphs">Compression board</text>
<path d="M710.0,139.5 L640.7,139.5 L622.4,163.3" fill="none" stroke="#0f1f33" stroke-width="1.04"/>
<polygon points="622.4,163.3 624.9,157.0 627.9,159.3" fill="#0f1f33"/>
<text x="716.3" y="138.8" font-size="9.4" class="cn" textLength="32.1" lengthAdjust="spacing">外链板</text>
<text x="685.4" y="148.0" font-size="9.8" class="en" textLength="92.1" lengthAdjust="spacingAndGlyphs">Outside connecting plate</text>
<path d="M738.3,151.1 L672.2,151.1 L652.0,178.0" fill="none" stroke="#0f1f33" stroke-width="1.04"/>
<polygon points="652.0,178.0 654.4,171.7 657.4,173.9" fill="#0f1f33"/>
<text x="709.0" y="162.9" font-size="9.4" class="cn" textLength="20.3" lengthAdjust="spacing">垫片</text>
<text x="730.0" y="163.5" font-size="9.2" class="en" textLength="25.2" lengthAdjust="spacingAndGlyphs">Gasket</text>
<path d="M739.5,166.8 L693.0,166.8 L665.7,203.0" fill="none" stroke="#0f1f33" stroke-width="1.04"/>
<polygon points="665.7,203.0 668.1,196.7 671.1,199.0" fill="#0f1f33"/>
<text x="751.4" y="173.8" font-size="9.4" class="cn" textLength="32.5" lengthAdjust="spacing">内链板</text>
<text x="724.3" y="182.9" font-size="9.8" class="en" textLength="85.4" lengthAdjust="spacingAndGlyphs">Inside connecting plate</text>
<path d="M784.9,187.0 L721.9,187.0 L706.6,205.9" fill="none" stroke="#0f1f33" stroke-width="1.04"/>
<polygon points="706.6,205.9 709.2,199.7 712.2,202.0" fill="#0f1f33"/>
<text x="759.5" y="252.0" font-size="9.4" class="cn" textLength="32.5" lengthAdjust="spacing">外链板</text>
<text x="728.4" y="260.9" font-size="9.8" class="en" textLength="92.7" lengthAdjust="spacingAndGlyphs">Outside connecting plate</text>
<path d="M807.3,264.6 L725.5,264.6 L720.2,250.3" fill="none" stroke="#0f1f33" stroke-width="1.04"/>
<polygon points="720.2,250.3 724.2,255.7 720.7,257.1" fill="#0f1f33"/>
<text x="724.9" y="276.4" font-size="9.4" class="cn" textLength="43.7" lengthAdjust="spacing">弹簧垫圈</text>
<text x="719.8" y="285.9" font-size="9.8" class="en" textLength="51.9" lengthAdjust="spacingAndGlyphs">Spring washer</text>
<path d="M757.5,289.0 L717.8,289.0 L709.7,272.3" fill="none" stroke="#0f1f33" stroke-width="1.04"/>
<polygon points="709.7,272.3 714.2,277.3 710.8,279.0" fill="#0f1f33"/>
<text x="718.8" y="297.2" font-size="9.4" class="cn" textLength="21.4" lengthAdjust="spacing">销轴</text>
<text x="713.3" y="306.7" font-size="9.8" class="en" textLength="31.3" lengthAdjust="spacingAndGlyphs">Pin shaft</text>
<path d="M743.2,308.3 L708.7,308.3 L699.9,267.6" fill="none" stroke="#0f1f33" stroke-width="1.04"/>
<polygon points="699.9,267.6 703.1,273.6 699.4,274.4" fill="#0f1f33"/>
<text x="676.0" y="331.2" font-size="9.4" class="cn" textLength="33.7" lengthAdjust="spacing">连结器</text>
<text x="673.0" y="339.7" font-size="9.8" class="en" textLength="38.7" lengthAdjust="spacingAndGlyphs">Connector</text>
<path d="M712.0,341.7 L669.0,341.7 L583.7,230.5" fill="none" stroke="#0f1f33" stroke-width="0.85"/>
<polygon points="583.7,230.5 589.2,234.5 586.1,236.8" fill="#0f1f33"/>
<path d="M671.5,341.7 L584.2,231.2" fill="none" stroke="#0f1f33" stroke-width="0.61"/>
<path d="M669.0,341.7 L645.7,287.8" fill="none" stroke="#0f1f33" stroke-width="0.85"/>
<polygon points="645.7,287.8 650.0,293.0 646.5,294.5" fill="#0f1f33"/>
<path d="M671.5,341.7 L646.0,288.6" fill="none" stroke="#0f1f33" stroke-width="0.61"/>
</g>
</svg>
</body></html>
